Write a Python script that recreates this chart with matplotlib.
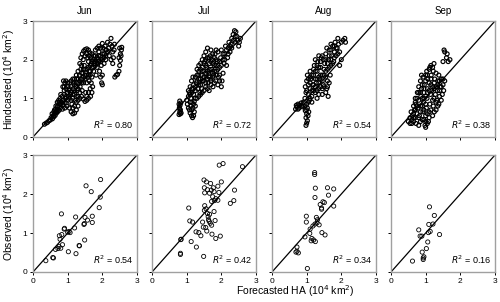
import matplotlib.pyplot as plt
import numpy as np

months = ["Jun", "Jul", "Aug", "Sep"]
r2_hind = ["0.80", "0.72", "0.54", "0.38"]
r2_obs = ["0.54", "0.42", "0.34", "0.16"]
ticks = [0, 1, 2, 3]

# hindcast (top row)
jun_hind = [(0.33,0.33),(0.38,0.36),(0.42,0.38),(0.46,0.42),(0.5,0.44),(0.52,0.5),(0.56,0.47),(0.58,0.55),
            (0.6,0.52),(0.62,0.6),(0.64,0.56),(0.66,0.66),(0.68,0.62),(0.7,0.72),(0.72,0.66),(0.62,0.7),
            (0.66,0.8),(0.7,0.9),(0.72,0.8),(0.74,0.95),(0.76,0.86),(0.78,1.0),(0.76,0.7),(0.8,0.76),
            (0.82,0.9),(0.84,1.05),(0.86,0.82),(0.88,0.95),(0.9,1.1),(0.86,1.3),(0.88,1.45),(0.92,1.4),
            (0.9,1.2),(0.94,1.0),(0.96,0.88),(0.98,1.15),(1.0,1.3),(1.0,0.95),(1.02,1.05),(1.04,1.2),
            (1.06,1.4),(1.08,1.1),(1.05,0.75),(1.1,0.65),(1.15,0.6),(1.2,0.62),(1.25,0.7),(1.3,0.8),
            (1.12,0.85),(1.14,1.0),(1.16,1.25),(1.18,1.4),(1.2,1.1),(1.22,0.95),(1.24,1.3),(1.26,1.5),
            (1.28,1.2),(1.3,1.05),(1.32,1.4),(1.34,1.6),(1.36,1.3),(1.38,1.75),(1.4,1.5),(1.35,1.9),
            (1.38,2.05),(1.42,2.15),(1.46,2.22),(1.5,2.26),(1.55,2.28),(1.6,2.25),(1.64,2.18),(1.66,2.05),
            (1.68,1.9),(1.42,1.2),(1.44,1.65),(1.46,1.4),(1.48,1.85),(1.5,1.6),(1.45,0.98),(1.5,0.92),
            (1.55,0.95),(1.6,1.0),(1.66,1.05),(1.7,1.15),(1.72,1.3),(1.68,1.4),(1.62,1.45),(1.52,1.15),
            (1.56,1.75),(1.58,1.55),(1.6,1.95),(1.62,1.7),(1.65,1.6),(1.7,1.8),(1.72,2.0),(1.75,1.7),
            (1.78,1.9),(1.8,2.1),(1.82,1.6),(1.85,1.8),(1.88,2.0),(1.9,2.2),(1.92,1.7),(1.95,1.55),
            (1.98,1.4),(2.0,1.35),(2.0,1.6),(1.97,1.85),(2.0,2.0),(2.02,2.3),(2.0,2.42),(2.05,2.15),
            (2.08,2.35),(2.1,2.0),(2.12,2.25),(2.15,2.45),(2.18,2.3),(2.2,2.1),(2.22,2.4),(2.25,2.55),
            (2.28,2.35),(2.3,2.2),(2.25,2.0),(2.3,1.9),(2.32,2.05),(2.35,2.4),(2.34,2.25),(2.36,1.55),
            (2.4,1.6),(2.44,1.62),(2.48,1.7),(2.5,1.85),(2.52,1.98),(2.48,2.05),(2.52,2.15),(2.55,2.25),
            (2.56,2.32),(2.54,2.1),(2.5,2.3),(0.8,1.1),(0.95,1.25),(1.1,1.3),(1.15,1.5),(1.25,1.6),
            (1.3,1.25),(1.4,1.4),(1.45,1.55),(1.55,1.4),(1.5,1.75),(1.6,1.6),(1.65,1.85),(1.7,1.55),
            (1.75,1.95),(1.8,1.85),(1.85,2.05),(1.9,1.95),(1.95,2.1),(2.05,1.9),(2.1,2.1),(1.2,1.2),
            (1.25,1.05),(1.35,1.15),(1.05,1.0),(0.98,0.8),(0.92,0.75),(0.85,0.72),
            (0.7,0.78),(0.75,0.9),(0.8,0.85),(0.85,0.95),(0.9,0.88),(0.95,1.05),(1.0,1.15),(1.05,1.25),
            (1.1,1.15),(1.15,1.1),(1.2,1.35),(1.25,1.4),(1.3,1.5),(1.35,1.45),(1.4,1.65),(1.45,1.75),
            (1.5,1.5),(1.55,1.6),(1.6,1.8),(1.65,1.7),(1.7,1.95),(1.75,1.8),(1.8,1.95),(1.85,1.9),
            (1.9,2.1),(1.95,1.95),(2.0,2.15),(2.05,2.05),(2.1,2.25),(2.15,2.2),(1.1,0.95),(1.15,0.75),
            (1.2,0.8),(1.25,0.9),(1.3,0.95),(1.35,1.0),(1.4,1.05),(1.55,1.05),(1.6,1.15),(1.65,1.25),
            (0.55,0.6),(0.6,0.65),(0.65,0.72),(0.9,1.3),(0.95,1.45),(1.0,1.4),(1.1,1.45),(1.2,1.5),
            (1.3,1.7),(1.4,1.85),(1.45,2.0),(1.5,2.1),(1.55,2.15),(1.58,2.05),(1.62,2.1),(1.7,2.15),
            (1.75,2.1),(1.8,2.25),(1.85,2.3),(1.9,2.35),(1.95,2.3)]

jul_hind = [(0.78,0.58),(0.8,0.64),(0.82,0.7),(0.79,0.76),(0.81,0.82),(0.83,0.88),(0.8,0.93),(0.84,0.62),
            (0.78,0.85),(1.05,0.75),(1.08,0.7),(1.1,0.62),(1.14,0.55),(1.17,0.5),(1.2,0.55),(1.22,0.65),
            (1.12,0.8),(1.18,0.75),(1.25,0.8),(1.02,0.85),(1.0,0.95),(1.05,1.05),(1.08,1.15),(1.12,1.0),
            (1.15,1.25),(1.1,1.3),(1.14,1.45),(1.18,1.55),(1.2,1.1),(1.22,0.92),(1.25,1.2),(1.28,1.4),
            (1.3,1.0),(1.32,1.25),(1.35,1.5),(1.38,1.15),(1.4,1.35),(1.42,1.6),(1.45,1.8),(1.44,1.25),
            (1.48,1.45),(1.5,1.7),(1.52,1.95),(1.55,1.3),(1.56,1.55),(1.58,1.8),(1.6,2.05),(1.62,1.4),
            (1.64,1.65),(1.66,1.9),(1.68,2.1),(1.7,1.5),(1.72,1.75),(1.74,2.0),(1.76,1.3),(1.78,1.6),
            (1.8,1.85),(1.82,2.15),(1.84,1.45),(1.86,1.7),(1.88,1.95),(1.9,2.2),(1.92,1.55),(1.95,1.8),
            (1.98,2.05),(2.0,1.3),(2.02,1.45),(2.0,2.25),(2.05,1.65),(2.08,1.9),(2.1,2.15),(2.12,2.35),
            (2.15,1.85),(2.18,2.05),(2.2,2.3),(2.22,2.45),(2.25,2.2),(2.28,2.4),(2.3,2.55),(2.34,2.65),
            (2.38,2.75),(2.42,2.72),(2.45,2.6),(2.4,2.45),(2.48,2.5),(2.52,2.45),(2.55,2.55),(2.5,2.35),
            (1.3,1.6),(1.4,1.9),(1.5,2.1),(1.6,2.3),(1.35,1.85),(1.25,1.55),(1.45,2.0),(1.55,2.2),
            (1.7,2.25),(1.65,1.2),(1.8,1.4),(1.9,1.35),(1.95,1.6),(2.05,2.0),(1.15,0.9),(1.2,1.35),
            (1.3,1.75),(1.35,1.35),(1.45,1.45),(1.55,1.65),(1.65,1.75),(1.75,1.9),(1.85,2.0),(1.6,1.5),
            (1.5,1.2),(1.7,1.35),(1.4,1.1),
            (1.05,1.2),(1.1,1.1),(1.15,1.15),(1.2,1.25),(1.25,1.3),(1.3,1.45),(1.35,1.6),(1.4,1.5),
            (1.45,1.7),(1.5,1.55),(1.55,1.85),(1.6,1.7),(1.65,1.55),(1.7,1.95),(1.75,1.65),(1.8,1.7),
            (1.85,1.85),(1.9,1.75),(1.95,1.95),(2.0,1.85),(2.05,2.15),(2.1,2.0),(2.15,2.25),(2.2,2.15),
            (2.25,2.35),(2.3,2.3),(2.35,2.5),(2.4,2.6),(1.35,1.7),(1.4,1.75),(1.5,1.9),(1.55,2.0),
            (1.65,2.05),(1.75,2.15),(1.8,2.05),(1.85,2.25),(1.25,1.0),(1.35,1.05),(1.45,1.15),(1.55,1.4),
            (1.6,1.25),(1.7,1.45),(1.75,1.55),(1.85,1.6),(1.95,1.45),(1.15,0.7),(1.2,0.85),(1.1,0.9),
            (0.8,0.72),(0.82,0.6)]

aug_hind = [(0.68,0.72),(0.72,0.78),(0.75,0.85),(0.78,0.75),(0.8,0.82),(0.84,0.88),(0.88,0.78),(0.7,0.82),
            (0.9,0.9),(0.98,0.3),(1.0,0.36),(1.02,0.42),(0.98,0.5),(1.0,0.6),(1.04,0.55),(0.96,0.68),
            (1.02,0.75),(1.06,0.65),(0.95,1.0),(0.98,1.15),(0.96,1.3),(1.0,1.45),(1.02,1.6),(1.05,1.1),
            (1.08,0.95),(1.1,1.25),(1.12,1.5),(1.1,1.7),(1.15,1.05),(1.18,1.35),(1.2,1.6),(1.22,1.85),
            (1.25,1.15),(1.28,1.4),(1.3,1.7),(1.32,1.95),(1.35,1.25),(1.38,1.5),(1.4,1.8),(1.42,2.05),
            (1.45,1.1),(1.48,1.35),(1.5,1.6),(1.52,1.9),(1.55,2.15),(1.58,1.25),(1.6,1.45),(1.62,1.05),
            (1.6,1.75),(1.63,2.0),(1.65,2.25),(1.68,1.6),(1.7,1.85),(1.72,2.1),(1.75,2.35),(1.78,1.95),
            (1.8,2.2),(1.82,2.45),(1.85,2.1),(1.88,2.3),(1.9,2.55),(1.92,2.4),(1.95,2.2),(2.0,2.0),
            (2.05,2.5),(2.1,2.55),(2.12,2.45),(1.95,1.85),(1.25,2.0),(1.35,2.1),(1.48,2.0),(1.1,1.4),
            (1.2,1.2),(1.3,1.0),(1.4,1.3),(1.15,0.9),(1.05,1.35),(1.0,1.2),(1.5,1.3),(1.55,1.7),
            (1.45,1.6),(1.35,1.55),(1.25,1.5),(1.65,1.4),(1.58,2.3),(1.7,2.4),
            (1.0,0.85),(1.05,0.9),(1.1,1.0),(1.15,1.2),(1.2,1.35),(1.25,1.3),(1.3,1.5),(1.35,1.4),
            (1.4,1.6),(1.45,1.45),(1.5,1.75),(1.55,1.55),(1.6,1.9),(1.65,1.8),(1.7,2.0),(1.75,1.9),
            (1.8,2.05),(1.85,2.3),(1.9,2.15),(1.15,1.6),(1.2,1.75),(1.3,1.85),(1.4,1.95),(1.45,2.1),
            (1.05,1.5),(1.1,1.55),(1.3,1.2),(1.35,1.1),(1.45,1.25),(1.55,1.15),(1.6,1.3),(0.95,0.8),
            (1.0,0.7),(0.85,0.8),(0.75,0.72),(1.25,1.7),(1.35,1.8),(1.55,2.0),(1.65,2.1),(1.7,2.25),
            (1.8,2.35),(2.0,2.45)]

sep_hind = [(0.5,0.4),(0.55,0.35),(0.6,0.45),(0.62,0.55),(0.58,0.65),(0.65,0.4),(0.7,0.5),(0.68,0.7),
            (0.72,0.85),(0.7,1.0),(0.75,0.6),(0.78,0.75),(0.8,0.95),(0.76,1.15),(0.8,1.3),(0.82,0.55),
            (0.85,0.8),(0.86,1.05),(0.88,1.25),(0.85,1.45),(0.9,0.45),(0.92,0.65),(0.94,0.9),(0.95,1.15),
            (0.96,1.35),(0.93,1.55),(0.98,0.3),(1.0,0.25),(1.0,0.55),(1.02,0.75),(1.04,1.0),(1.05,1.25),
            (1.06,1.5),(1.03,1.7),(1.08,0.4),(1.1,0.65),(1.12,0.85),(1.14,1.1),(1.15,1.35),(1.16,1.6),
            (1.12,1.8),(1.2,0.55),(1.22,0.8),(1.24,1.0),(1.25,1.25),(1.26,1.5),(1.24,1.9),(1.22,1.7),
            (1.3,0.7),(1.32,0.95),(1.34,1.2),(1.35,1.45),(1.3,1.65),(1.38,0.85),(1.4,1.05),(1.42,1.3),
            (1.45,1.5),(1.48,1.1),(1.5,1.35),(1.55,1.45),(1.52,1.2),(1.45,0.95),(1.55,2.2),(1.53,2.25),
            (1.5,1.95),(1.6,2.05),(1.65,1.95),(1.7,2.0),(1.62,2.15),(0.88,1.6),(1.0,1.6),(1.1,1.2),
            (0.9,1.0),(0.65,0.8),(0.72,0.35),(0.8,0.3),(0.95,0.45),(1.05,0.35),(1.18,1.2),(1.28,1.1),
            (1.38,1.6),
            (0.6,0.35),(0.65,0.6),(0.7,0.7),(0.75,0.8),(0.8,0.5),(0.85,0.65),(0.9,0.8),(0.95,1.0),
            (1.0,1.05),(1.05,1.15),(1.1,1.4),(1.15,1.5),(1.2,1.3),(1.25,1.4),(1.3,1.3),(1.35,1.35),
            (1.4,1.2),(1.45,1.3),(0.85,1.15),(0.9,1.35),(0.95,1.25),(1.0,1.45),(1.05,1.6),(1.1,1.75),
            (1.15,1.85),(1.2,1.8),(0.75,1.0),(0.8,1.15),(0.7,0.9),(1.0,0.85),(1.05,0.6),(1.1,0.5),
            (1.15,0.7),(1.2,0.95),(1.25,0.65),(1.3,0.9),(1.35,0.8),(0.85,0.4),(0.95,0.7),(1.0,0.4),
            (1.4,1.45),(1.5,1.5),(0.65,0.5),(0.55,0.5)]

# observed (bottom row)
jun_obs = [(0.37,0.29),(0.57,0.37),(0.59,0.36),(0.65,0.58),(0.72,0.60),(0.75,0.65),(0.80,0.61),(0.85,0.70),
           (0.78,0.84),(0.76,0.93),(0.83,0.96),(0.90,1.10),(0.91,1.12),(1.00,1.02),(1.07,1.01),(1.04,1.04),
           (0.82,1.49),(1.02,0.52),(1.24,0.47),(1.20,1.13),(1.23,1.41),(1.33,0.68),(1.34,0.67),(1.49,0.82),
           (1.47,1.22),(1.48,1.24),(1.50,1.40),(1.57,1.33),(1.53,2.21),(1.68,2.06),(1.71,1.27),(1.71,1.43),
           (1.91,1.65),(1.94,1.92),(1.95,2.37)]

jul_obs = [(0.82,0.48),(0.82,0.45),(0.83,0.83),(0.84,0.84),(1.13,0.78),(1.28,0.64),(1.49,0.40),(1.06,1.64),
           (1.09,1.31),(1.17,1.28),(1.27,1.03),(1.35,1.01),(1.41,0.93),(1.46,1.28),(1.48,1.15),(1.52,1.70),
           (1.51,1.58),(1.56,1.62),(1.60,1.50),(1.63,1.34),(1.65,1.30),(1.68,1.25),(1.72,1.20),(1.55,1.14),
           (1.58,1.05),(1.73,0.97),(1.84,0.86),(1.97,0.92),(1.79,1.55),(1.82,1.32),(1.50,2.36),(1.57,2.31),
           (1.69,2.27),(1.51,2.16),(1.60,2.11),(1.71,2.10),(1.77,2.16),(1.90,2.20),(2.00,2.31),(1.52,2.03),
           (1.66,2.02),(1.79,2.06),(1.93,2.04),(1.75,1.93),(1.84,1.88),(1.90,1.84),(1.72,1.81),(1.80,1.83),
           (1.94,2.74),(2.05,2.78),(2.61,2.70),(2.38,2.10),(2.36,1.83),(2.26,1.76),(1.62,1.42),(1.66,1.48)]

aug_obs = [(1.02,0.09),(0.72,0.64),(0.69,0.51),(0.76,0.49),(0.72,0.53),(0.95,0.90),(1.09,0.99),(1.15,0.86),
           (1.20,0.82),(1.25,0.78),(1.13,0.80),(1.44,1.01),(1.53,0.95),(1.10,1.10),(1.18,1.18),(1.24,1.23),
           (1.30,1.26),(1.36,1.21),(1.28,1.40),(1.31,1.34),(0.99,1.28),(0.99,1.43),(1.43,1.61),(1.39,1.73),
           (1.47,1.80),(1.51,1.78),(1.78,1.69),(1.24,1.91),(1.63,1.97),(1.60,2.16),(1.78,2.13),(1.25,2.15),
           (1.23,2.50),(1.23,2.55),(1.43,1.64)]

sep_obs = [(0.62,0.28),(0.93,0.32),(0.93,0.36),(0.95,0.39),(0.90,0.51),(1.02,0.60),(1.06,0.77),(0.80,1.08),
           (0.84,0.92),(0.89,0.92),(1.08,1.01),(1.13,1.04),(1.09,1.22),(1.21,1.23),(1.25,1.45),(1.11,1.67),
           (1.40,0.96)]

hind = [jun_hind, jul_hind, aug_hind, sep_hind]
obs = [jun_obs, jul_obs, aug_obs, sep_obs]

fig = plt.figure(figsize=(5.0, 3.02), dpi=100)
plt.rcParams['font.family'] = ['Liberation Sans', 'DejaVu Sans']

lefts = [33, 152, 272, 391]
W, H = 500, 302

for row, (data, r2s) in enumerate([(hind, r2_hind), (obs, r2_obs)]):
    top_px, bot_px = (21, 137) if row == 0 else (155, 272)
    for col in range(4):
        ax = fig.add_axes([lefts[col] / W, 1 - bot_px / H, 104 / W, (bot_px - top_px) / H])
        pts = np.array(data[col])
        size = 8 if row == 0 else 9
        lw = 0.85 if row == 0 else 0.6
        ax.scatter(pts[:, 0], pts[:, 1], s=size, facecolors='none', edgecolors='black', linewidths=lw)
        ax.plot([0, 3], [0, 3], color='black', lw=0.9)
        ax.set_xlim(0, 3)
        ax.set_ylim(0, 3)
        ax.set_xticks(ticks)
        ax.set_yticks(ticks)
        for s in ax.spines.values():
            s.set_color('#a0a0a0')
            s.set_linewidth(1.0)
        ax.tick_params(length=2.5, width=0.7, color='black', labelsize=6, pad=1.5)
        if row == 0:
            ax.tick_params(labelbottom=False)
            ax.set_title(months[col], fontsize=7, pad=5)
        if col > 0:
            ax.tick_params(labelleft=False)
        ax.text(0.97, 0.05, r'$R^2$ = ' + r2s[col], transform=ax.transAxes,
                ha='right', va='bottom', fontsize=6.5)
        if col == 0:
            lab = 'Hindcasted (10$^4$ km$^2$)' if row == 0 else 'Observed (10$^4$ km$^2$)'
            ax.set_ylabel(lab, fontsize=7.5, labelpad=4)

fig.text(0.59, 0.035, 'Forecasted HA (10$^4$ km$^2$)', ha='center', va='center', fontsize=7.5)

plt.savefig('out.png', dpi=100)
